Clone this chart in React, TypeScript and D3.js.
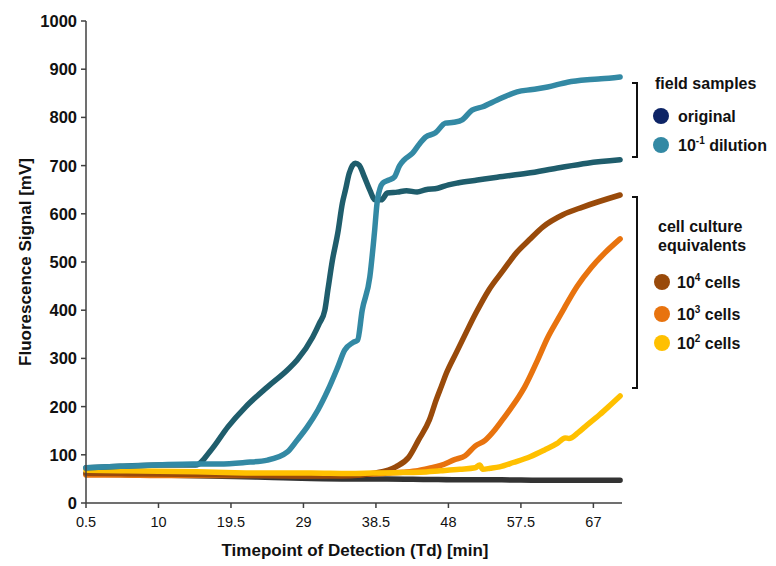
import React from "react";
import * as d3 from "d3";

// ---- data (time in min, signal in mV) ----
const originalT = [0.5, 5, 10, 14.9, 16.9, 19.1, 21.4, 24.3, 26.9, 28.2, 30.2, 31.1, 31.8, 32.2, 32.8, 33.5, 34.1, 34.5, 35.0, 35.8, 36.3, 37.0, 37.7, 38.4, 39.2, 40.0, 41.3, 42.5, 43.9, 45.0, 46.6, 48, 49.2, 51.8, 54.4, 58.3, 62.3, 66.2, 70.5];
const originalV = [73, 76, 79, 79, 110, 158, 199, 241, 276, 297, 344, 373, 400, 442, 504, 560, 622, 649, 684, 705, 701, 676, 649, 629, 629, 643, 645, 648, 645, 650, 653, 660, 664, 670, 676, 684, 695, 705, 712];

const dilutionT = [0.5, 5, 10, 14.5, 18, 21.3, 24.3, 26.9, 28.2, 29.5, 30.9, 32.2, 33.5, 34.4, 35.5, 36.1, 36.7, 37.7, 38.3, 38.7, 39.4, 40.2, 40.9, 41.6, 42.2, 43.3, 44.2, 45.0, 46.3, 47.6, 48.7, 49.8, 51.1, 52.5, 54.4, 57.0, 59, 61.0, 63.6, 66.2, 68, 70.5];
const dilutionV = [73, 76, 79, 81, 81, 84, 89, 106, 131, 158, 193, 234, 282, 317, 333, 338, 400, 469, 560, 629, 664, 670, 676, 700, 712, 726, 745, 759, 768, 788, 790, 795, 815, 822, 836, 853, 858, 863, 873, 878, 880, 884];

const cells4T = [0.5, 5, 10, 15, 20, 25, 30, 34, 36.5, 38.3, 41.1, 42.8, 44.1, 45.5, 46.4, 47.1, 47.7, 49.0, 50.3, 51.6, 53.3, 55.2, 56.9, 58.6, 60.4, 63.0, 65.6, 70.5];
const cells4V = [62, 61, 60, 59, 58, 57, 56, 56, 58, 62, 75, 95, 131, 172, 214, 243, 268, 311, 353, 394, 442, 483, 519, 546, 573, 598, 614, 639];

const cells3T = [0.5, 5, 10, 15, 20, 25, 30, 35, 38, 40, 42, 44, 45.5, 47, 48.8, 50.2, 51.5, 52.8, 54.1, 55.2, 56.2, 57.2, 58.0, 59.7, 61.0, 62.3, 63.2, 64.9, 66.7, 68.5, 70.5];
const cells3V = [58, 58, 57, 57, 57, 57, 57, 58, 60, 62, 64, 67, 72, 78, 90, 98, 118, 130, 152, 175, 197, 220, 241, 297, 343, 380, 405, 450, 488, 519, 548];

const cells2T = [0.5, 5, 10, 15, 20, 25, 30, 35, 38, 41, 44.3, 47, 49.5, 51.5, 52.1, 52.5, 53.5, 54.7, 56.5, 58.7, 60.6, 62.2, 63.3, 63.8, 65.0, 65.9, 67.8, 69, 70.5];
const cells2V = [68, 67, 66, 65, 63, 62, 62, 61, 62, 63, 64, 67, 70, 73, 79, 70, 72, 75, 84, 96, 110, 123, 135, 134, 146, 158, 183, 200, 222];

const controlT = [0.5, 10, 20, 25, 30, 35, 40, 45, 50, 55, 60, 65, 70.5];
const controlV = [60, 58, 55, 53, 51, 50, 50, 49, 48, 48, 47, 47, 47];

const xTicks = [0.5, 10, 19.5, 29, 38.5, 48, 57.5, 67];
const yTicks = [0, 100, 200, 300, 400, 500, 600, 700, 800, 900, 1000];

const FONT = "'Liberation Sans', Arial, sans-serif";

type Series = { key: string; t: number[]; v: number[]; color: string };
const series: Series[] = [
  { key: "control", t: controlT, v: controlV, color: "#333333" },
  { key: "c3", t: cells3T, v: cells3V, color: "#E8730E" },
  { key: "c4", t: cells4T, v: cells4V, color: "#994A0A" },
  { key: "c2", t: cells2T, v: cells2V, color: "#FFC000" },
  { key: "orig", t: originalT, v: originalV, color: "#1F5D6C" },
  { key: "dil", t: dilutionT, v: dilutionV, color: "#3389A4" },
];

export default function App() {
  const x = d3.scaleLinear().domain([0.5, 70.75]).range([86, 622]);
  const y = d3.scaleLinear().domain([0, 1000]).range([503, 21]);
  const line = d3
    .line<[number, number]>()
    .x((d) => x(d[0]))
    .y((d) => y(d[1]))
    .curve(d3.curveMonotoneX);

  const axisColor = "#404040";
  const textColor = "#111111";

  return (
    <svg
      width={776}
      height={566}
      style={{ position: "absolute", left: 0, top: 0, background: "#fff" }}
      fontFamily={FONT}
    >
      {/* series */}
      {series.map((s) => (
        <path
          key={s.key}
          d={line(s.t.map((t, i) => [t, s.v[i]] as [number, number])) || ""}
          fill="none"
          stroke={s.color}
          strokeWidth={5.5}
          strokeLinecap="round"
          strokeLinejoin="round"
        />
      ))}

      {/* axes */}
      <line x1={x(0.5)} x2={x(0.5)} y1={y(1000)} y2={y(0)} stroke={axisColor} strokeWidth={1.5} />
      <line x1={x(0.5)} x2={622} y1={y(0)} y2={y(0)} stroke={axisColor} strokeWidth={1.5} />
      {yTicks.map((t) => (
        <g key={"y" + t}>
          <line x1={x(0.5) - 5} x2={x(0.5)} y1={y(t)} y2={y(t)} stroke={axisColor} strokeWidth={1.5} />
          <text
            x={x(0.5) - 9}
            y={y(t)}
            dy="0.36em"
            textAnchor="end"
            fontSize={16.5}
            fontWeight="bold"
            fill={textColor}
          >
            {t}
          </text>
        </g>
      ))}
      {xTicks.map((t) => (
        <g key={"x" + t}>
          <line x1={x(t)} x2={x(t)} y1={y(0)} y2={y(0) + 5} stroke={axisColor} strokeWidth={1.5} />
          <text x={x(t)} y={527} textAnchor="middle" fontSize={14.5} fill={textColor}>
            {t}
          </text>
        </g>
      ))}

      {/* axis titles */}
      <text
        transform={`translate(31,262) rotate(-90)`}
        textAnchor="middle"
        fontSize={17}
        fontWeight="bold"
        fill={textColor}
      >
        Fluorescence Signal [mV]
      </text>
      <text x={355} y={556} textAnchor="middle" fontSize={17} fontWeight="bold" fill={textColor}>
        Timepoint of Detection (Td) [min]
      </text>

      {/* legend brackets */}
      <path d="M632,83 H637 V157 H632" fill="none" stroke="#111" strokeWidth={2} />
      <path d="M632,197 H637 V388 H632" fill="none" stroke="#111" strokeWidth={2} />

      {/* legend: field samples */}
      <text x={655} y={89} fontSize={16} fontWeight="bold" fill={textColor}>field samples</text>
      <circle cx={661} cy={116} r={8} fill="#0D2466" />
      <text x={678} y={122} fontSize={16} fontWeight="bold" fill={textColor}>original</text>
      <circle cx={661} cy={145} r={8} fill="#3389A4" />
      <text x={678} y={151} fontSize={16} fontWeight="bold" fill={textColor}>
        10<tspan fontSize={10} dy={-7}>-1</tspan>
        <tspan dy={7}> dilution</tspan>
      </text>

      {/* legend: cell culture */}
      <text x={658} y={232} fontSize={16} fontWeight="bold" fill={textColor}>cell culture</text>
      <text x={658} y={251} fontSize={16} fontWeight="bold" fill={textColor}>equivalents</text>
      <circle cx={662} cy={282} r={8} fill="#994A0A" />
      <text x={677} y={288} fontSize={16} fontWeight="bold" fill={textColor}>
        10<tspan fontSize={10} dy={-7}>4</tspan>
        <tspan dy={7}> cells</tspan>
      </text>
      <circle cx={662} cy={314} r={8} fill="#E8730E" />
      <text x={677} y={320} fontSize={16} fontWeight="bold" fill={textColor}>
        10<tspan fontSize={10} dy={-7}>3</tspan>
        <tspan dy={7}> cells</tspan>
      </text>
      <circle cx={662} cy={343} r={8} fill="#FFC000" />
      <text x={677} y={349} fontSize={16} fontWeight="bold" fill={textColor}>
        10<tspan fontSize={10} dy={-7}>2</tspan>
        <tspan dy={7}> cells</tspan>
      </text>
    </svg>
  );
}
